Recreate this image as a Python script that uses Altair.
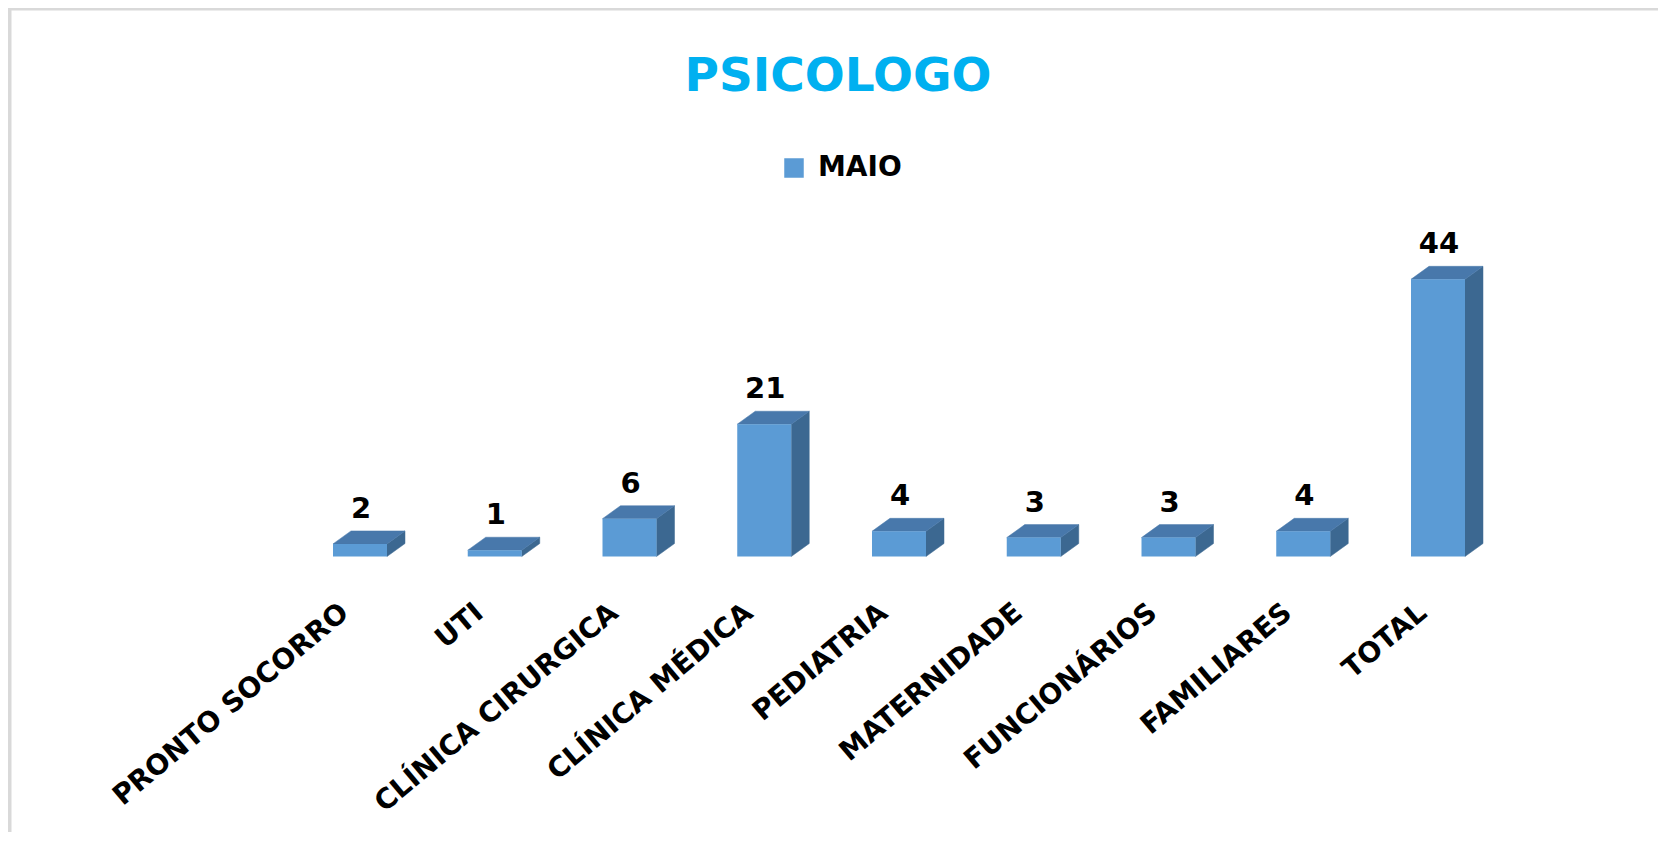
import altair as alt
import pandas as pd

# ---- data ----
categories = ["PRONTO SOCORRO", "UTI", "CLÍNICA CIRURGICA", "CLÍNICA MÉDICA",
              "PEDIATRIA", "MATERNIDADE", "FUNCIONÁRIOS", "FAMILIARES", "TOTAL"]
values = [2, 1, 6, 21, 4, 3, 3, 4, 44]
series_name = "MAIO"
title_text = "PSICOLOGO"

# ---- geometry of the pseudo-3D bars (in data units) ----
HW = 0.2004      # half width of front face (category units)
DEPTH_X = 0.1336 # depth offset to the right (category units)
DEPTH_Y = 2.06   # depth offset upwards (value units)
LABEL_DX = -0.11 # category label anchor shift
LABEL_Y = -8.4   # category label anchor (value units below baseline)

FRONT = "#5B9BD5"
TOP = "#4878AB"
SIDE = "#3C6891"
FONT = "DejaVu Sans"

idx = list(range(len(categories)))

front = pd.DataFrame({
    "cat": categories, "i": idx, "value": values,
    "xl": [i - HW for i in idx], "xr": [i + HW for i in idx],
    "base": [0] * len(idx), "serie": [series_name] * len(idx),
    "lx": [i + LABEL_DX for i in idx], "ly": [LABEL_Y] * len(idx),
})

side_rows, top_rows = [], []
for c, i, v in zip(categories, idx, values):
    for t in (0, 1):
        side_rows.append({"cat": c, "x": i + HW + t * DEPTH_X,
                          "ylo": t * DEPTH_Y, "yhi": v + t * DEPTH_Y})
        top_rows.append({"cat": c, "y": v + t * DEPTH_Y,
                         "xl": i - HW + t * DEPTH_X, "xr": i + HW + t * DEPTH_X})
side = pd.DataFrame(side_rows)
top = pd.DataFrame(top_rows)

xs = alt.Scale(domain=[0, 8], range=[352, 1430], zero=False, nice=False)
ys = alt.Scale(domain=[0, 44], range=[548.5, 271.3], zero=False, nice=False)

side_layer = alt.Chart(side).mark_area(color=SIDE, stroke=SIDE, strokeWidth=0.5).encode(
    x=alt.X("x:Q", scale=xs, axis=None),
    y=alt.Y("ylo:Q", scale=ys, axis=None),
    y2="yhi:Q",
    detail="cat:N",
)

top_layer = alt.Chart(top).mark_area(orient="horizontal", color=TOP, stroke=TOP, strokeWidth=0.5).encode(
    y=alt.Y("y:Q", scale=ys, axis=None),
    x=alt.X("xl:Q", scale=xs, axis=None),
    x2="xr:Q",
    detail="cat:N",
)

front_layer = alt.Chart(front).mark_rect().encode(
    x=alt.X("xl:Q", scale=xs, axis=None),
    x2="xr:Q",
    y=alt.Y("value:Q", scale=ys, axis=None),
    y2="base:Q",
    color=alt.Color("serie:N", scale=alt.Scale(range=[FRONT]),
                    legend=alt.Legend(title=None, orient="none", legendX=772, legendY=146,
                                      symbolType="square", symbolSize=380,
                                      symbolStrokeWidth=0, labelOffset=10,
                                      labelFont=FONT, labelFontWeight="bold",
                                      labelFontSize=28, labelColor="#000000")),
)

value_labels = alt.Chart(front).mark_text(
    font=FONT, fontWeight="bold", fontSize=29, color="#000000",
    baseline="alphabetic", align="center", dy=-26, dx=1
).encode(
    x=alt.X("i:Q", scale=xs, axis=None),
    y=alt.Y("value:Q", scale=ys, axis=None),
    text="value:Q",
)

cat_labels = alt.Chart(front).mark_text(
    font=FONT, fontWeight="bold", fontSize=28, color="#000000",
    angle=320, align="right", baseline="middle"
).encode(
    x=alt.X("lx:Q", scale=xs, axis=None),
    y=alt.Y("ly:Q", scale=ys, axis=None),
    text="cat:N",
)

title_layer = alt.Chart(pd.DataFrame({"t": [title_text]})).mark_text(
    font=FONT, fontWeight="bold", fontSize=47, color="#00B0F0",
    align="center", baseline="alphabetic"
).encode(x=alt.value(830), y=alt.value(83), text="t:N")

frame = pd.DataFrame({"k": ["top", "left"]})
frame_top = alt.Chart(frame.iloc[:1]).mark_rule(color="#D9D9D9", strokeWidth=3).encode(
    x=alt.value(0), x2=alt.value(1650), y=alt.value(1))
frame_left = alt.Chart(frame.iloc[1:]).mark_rule(color="#D9D9D9", strokeWidth=4).encode(
    x=alt.value(1.5), y=alt.value(0), y2=alt.value(824))

chart = alt.layer(
    frame_top, frame_left, title_layer,
    side_layer, top_layer, front_layer, value_labels, cat_labels
).properties(
    width=1650, height=824,
    autosize=alt.AutoSizeParams(type="none"),
    padding=0, background="#FFFFFF",
).configure_view(stroke=None)

chart.save("out.html", embed_options={"renderer": "svg", "actions": False})
